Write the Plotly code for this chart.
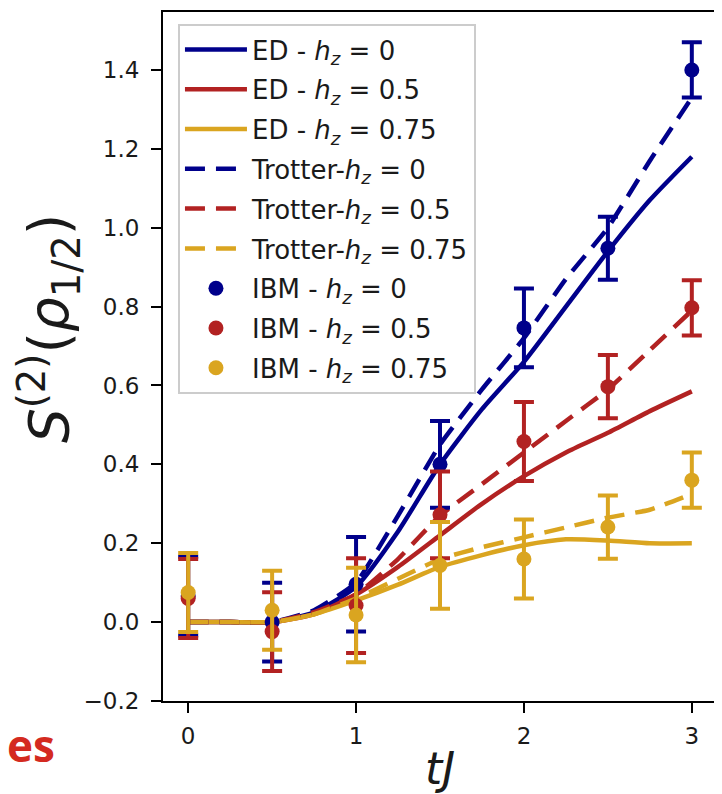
import plotly.graph_objects as go

# ---------------- data ----------------
t_curve = [0, 0.25, 0.5, 0.75, 1.0, 1.25, 1.5, 1.75, 2.0, 2.25, 2.5, 2.75, 3.0]
ed_h0 = [0, 0, 0, 0.025, 0.09, 0.23, 0.40, 0.54, 0.66, 0.80, 0.94, 1.07, 1.18]
ed_h05 = [0, 0, 0, 0.02, 0.07, 0.14, 0.22, 0.30, 0.37, 0.43, 0.48, 0.535, 0.585]
ed_h075 = [0, 0, 0, 0.02, 0.055, 0.095, 0.14, 0.17, 0.195, 0.21, 0.207, 0.2, 0.2]
trot_h0 = [0, 0, 0, 0.03, 0.10, 0.27, 0.45, 0.59, 0.72, 0.87, 1.00, 1.17, 1.33]
trot_h05 = [0, 0, 0, 0.025, 0.07, 0.16, 0.27, 0.35, 0.43, 0.51, 0.59, 0.69, 0.79]
trot_h075 = [0, 0, 0, 0.02, 0.06, 0.11, 0.16, 0.19, 0.215, 0.24, 0.265, 0.285, 0.325]

t_ibm = [0, 0.5, 1.0, 1.5, 2.0, 2.5, 3.0]
ibm_h0 = [0.066, 0.0, 0.096, 0.40, 0.746, 0.948, 1.40]
ibm_h05 = [0.06, -0.024, 0.042, 0.272, 0.458, 0.597, 0.797]
ibm_h075 = [0.075, 0.03, 0.018, 0.144, 0.16, 0.241, 0.36]
ibm_err = [0.1, 0.1, 0.12, 0.11, 0.1, 0.08, 0.07]

hz_labels = ["0", "0.5", "0.75"]
colors = ["#00008B", "#B22222", "#DAA520"]

y_ticks = [-0.2, 0.0, 0.2, 0.4, 0.6, 0.8, 1.0, 1.2, 1.4]
y_ticktext = ["\u22120.2", "0.0", "0.2", "0.4", "0.6", "0.8", "1.0", "1.2", "1.4"]
x_ticks = [0, 1, 2, 3]

FONT = "DejaVu Sans"
TXT = "#1a1a1a"
hz = "<i>h</i><sub><i>z</i></sub>"

fig = go.Figure()

for i, (ys, c) in enumerate(zip([ed_h0, ed_h05, ed_h075], colors)):
    fig.add_trace(go.Scatter(
        x=t_curve, y=ys, mode="lines",
        line=dict(color=c, width=4.5, shape="spline", smoothing=0.6),
        name=f"ED - {hz} = {hz_labels[i]}", legendgroup=f"g{i}"))

for i, (ys, c) in enumerate(zip([trot_h0, trot_h05, trot_h075], colors)):
    fig.add_trace(go.Scatter(
        x=t_curve, y=ys, mode="lines",
        line=dict(color=c, width=4.5, dash="20px,11px", shape="spline", smoothing=0.4),
        name=f"Trotter-{hz} = {hz_labels[i]}", legendgroup=f"g{i+3}"))

for i, (ys, c) in enumerate(zip([ibm_h0, ibm_h05, ibm_h075], colors)):
    fig.add_trace(go.Scatter(
        x=t_ibm, y=ys, mode="markers",
        marker=dict(color=c, size=15, symbol="circle"),
        error_y=dict(type="data", array=ibm_err, visible=True,
                     color=c, thickness=4, width=10),
        name=f"IBM - {hz} = {hz_labels[i]}", legendgroup=f"g{i+6}"))

# the page body has an 8px default margin, so the figure is sized/offset to fit the 722x794 window
fig.update_layout(
    width=714, height=786,
    margin=dict(l=155, r=5, t=2, b=93),
    paper_bgcolor="white", plot_bgcolor="white",
    font=dict(family=FONT, size=23, color=TXT),
    showlegend=True,
    legend=dict(
        x=0.027, y=0.9826, xanchor="left", yanchor="top",
        bgcolor="rgba(255,255,255,0.85)", bordercolor="#cccccc", borderwidth=2,
        font=dict(family=FONT, size=26, color=TXT),
        itemwidth=62, tracegroupgap=3, traceorder="grouped",
    ),
    xaxis=dict(
        range=[-0.15, 3.15], tickvals=x_ticks, showgrid=False, zeroline=False,
        showline=True, linecolor="black", linewidth=2, mirror=True,
        ticks="outside", ticklen=10, tickwidth=2, tickcolor="black",
        ticklabelstandoff=3,
        tickfont=dict(family=FONT, size=23, color=TXT),
        title=dict(text="<i>tJ</i>", font=dict(family=FONT, size=44, color=TXT), standoff=7),
    ),
    yaxis=dict(
        range=[-0.2, 1.547], tickvals=y_ticks, ticktext=y_ticktext,
        showgrid=False, zeroline=False,
        showline=True, linecolor="black", linewidth=2, mirror=True,
        ticks="outside", ticklen=10, tickwidth=2, tickcolor="black",
        ticklabelstandoff=7,
        tickfont=dict(family=FONT, size=23, color=TXT),
    ),
)

# y-axis title (placed as rotated text so it sits where the reference puts it)
fig.add_annotation(
    text="<i>S</i><sup>(2)</sup>(<i>ρ</i><sub>1/2</sub>)",
    xref="paper", yref="paper", x=(41 - 155) / 554, y=1 - (320 - 2) / 691,
    xanchor="center", yanchor="middle", textangle=-90, showarrow=False,
    font=dict(family=FONT, size=55, color=TXT))

fig.add_annotation(
    text="<b>es</b>", xref="paper", yref="paper",
    x=(49 - 155) / 554, y=-44 / 691, xanchor="right", yanchor="middle",
    showarrow=False, font=dict(family="Open Sans", size=44, color="#D42A20"))

fig.write_html("out.html")
